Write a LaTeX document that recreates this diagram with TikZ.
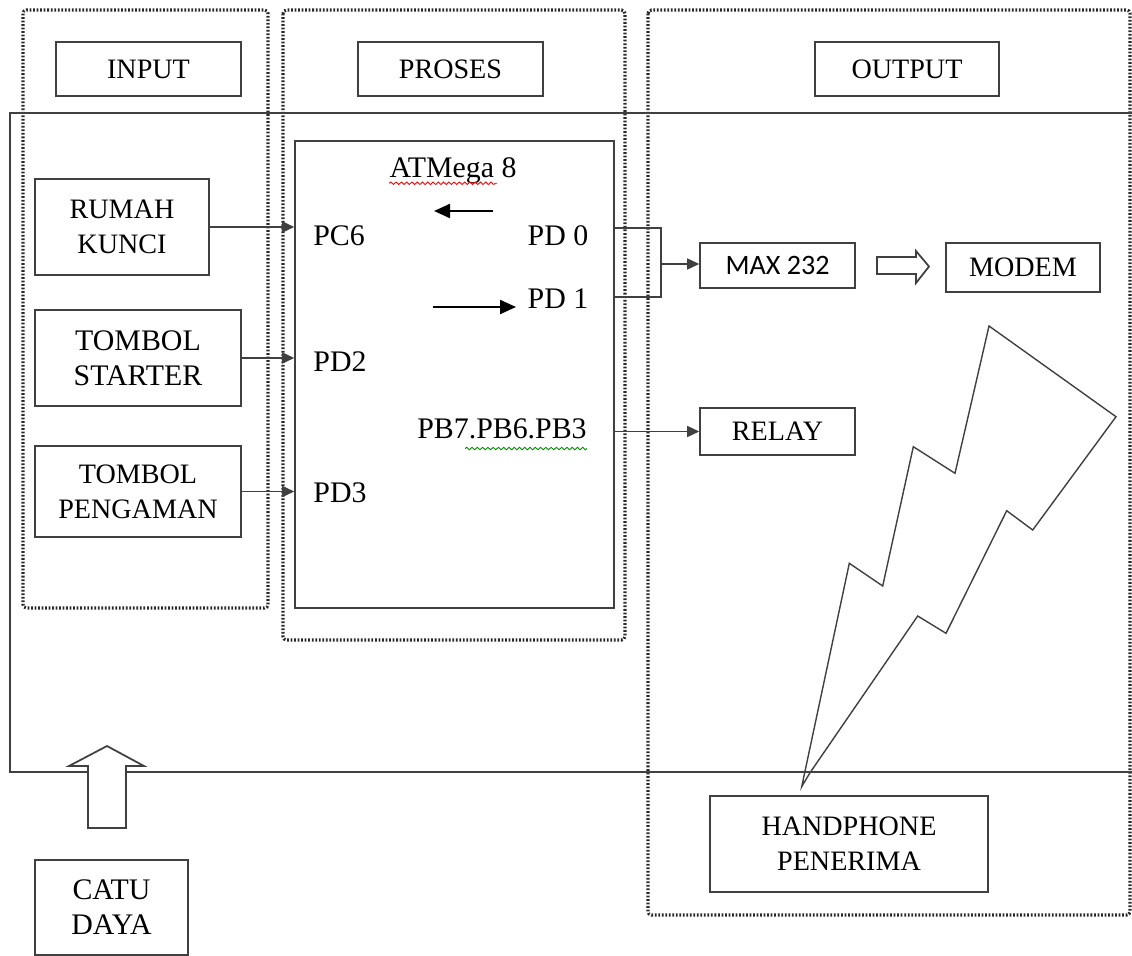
\documentclass[tikz,border=0pt]{standalone}
\usepackage{fontspec}
\setmainfont{Liberation Serif}
\newfontfamily\calibrifont{Carlito}
\usepackage{tikz}
\usetikzlibrary{arrows.meta, positioning, decorations.pathmorphing}
\definecolor{boxgray}{RGB}{64, 64, 64}
\definecolor{dotgray}{RGB}{40, 40, 40}
\newcommand{\blocktext}{\fontsize{16}{20}\selectfont}
\newcommand{\pintext}{\fontsize{17}{20}\selectfont}

\begin{document}
\begin{tikzpicture}[
  x=0.02cm, y=-0.02cm,
  block/.style={rectangle, draw=boxgray, line width=0.9pt, align=center,
               font=\blocktext, inner sep=0pt},
  group/.style={draw=dotgray, line width=1.8pt, dash pattern=on 1pt off 1pt,
               rounded corners=2pt},
  pin/.style={anchor=base, font=\pintext, inner sep=0pt},
  arr/.style={-{Triangle[length=0.24cm, width=0.22cm]}, draw=boxgray, line width=0.8pt},
  flow/.style={-{Triangle[length=0.32cm, width=0.28cm]}, line width=1.3pt, black},
  hollow/.style={draw=boxgray, line width=1pt, fill=white, line join=miter},
  squiggle/.style={decorate, decoration={snake, amplitude=0.7pt, segment length=3pt},
               line width=0.5pt}
]
  \useasboundingbox (0,0) rectangle (1132,956);

  \draw[group] (23,10) rectangle (268,608);
  \draw[group] (283,10) rectangle (625,640);
  \draw[group] (648,10) rectangle (1130,915);
  \draw[boxgray, line width=1pt] (1132,113) -- (10,113) -- (10,772) -- (1132,772);

  \node[block, minimum width=3.7cm, minimum height=1.08cm] (input) at (148.5,69) {INPUT};
  \node[block, minimum width=3.7cm, minimum height=1.08cm] (proses) at (450.5,69) {PROSES};
  \node[block, minimum width=3.68cm, minimum height=1.08cm] (output) at (907,69) {OUTPUT};

  \node[block, minimum width=3.48cm, minimum height=1.92cm] (rumah) at (122,227) {RUMAH\\KUNCI};
  \node[block, minimum width=4.12cm, minimum height=1.92cm, font=\pintext] (starter) at (138,358) {TOMBOL\\STARTER};
  \node[block, minimum width=4.12cm, minimum height=1.82cm] (pengaman) at (138,491.5) {TOMBOL\\PENGAMAN};

  \node[block, minimum width=6.38cm, minimum height=9.34cm] (atmega) at (454.5,374.5) {};
  \node[pin] (atlabel) at (453,178) {ATMega 8};
  \node[pin] (pc6) at (339,245) {PC6};
  \node[pin] (pd2) at (340,371) {PD2};
  \node[pin] (pd3) at (340,502) {PD3};
  \node[pin] (pd0) at (558,245) {PD 0};
  \node[pin] (pd1) at (558,308) {PD 1};
  \node[pin] (pb) at (502,438) {PB7.PB6.PB3};
  \draw[squiggle, red] ([yshift=-3pt]atlabel.base west) -- ++(108,0);
  \draw[squiggle, green!55!black] ([yshift=-6pt]pb.base east) -- ++(-122,0);

  \node[block, minimum width=3.1cm, minimum height=0.9cm, font={\blocktext\calibrifont}] (max) at (777.5,265.5) {MAX 232};
  \node[block, minimum width=3.08cm, minimum height=0.98cm] (modem) at (1023,267.5) {MODEM};
  \node[block, minimum width=3.1cm, minimum height=0.94cm] (relay) at (777.5,431.5) {RELAY};
  \node[block, minimum width=5.56cm, minimum height=1.92cm] (hp) at (849,844) {HANDPHONE\\PENERIMA};
  \node[block, minimum width=3.06cm, minimum height=1.9cm, font=\pintext] (catu) at (111.5,907.5) {CATU\\DAYA};

  \draw[arr] (rumah.east) -- (rumah.east -| atmega.west);
  \draw[arr] (starter.east) -- (starter.east -| atmega.west);
  \draw[arr] (pengaman.east) -- (pengaman.east -| atmega.west);

  \coordinate (rxa) at (493,211);
  \coordinate (rxb) at (434,211);
  \coordinate (txa) at (433,307);
  \coordinate (txb) at (516,307);
  \draw[flow] (rxa) -- (rxb);
  \draw[flow] (txa) -- (txb);

  \coordinate (b0) at (614,228);
  \coordinate (b1) at (614,297);
  \coordinate (bj) at (661,264);
  \draw[boxgray, line width=0.8pt] (b0) -| (bj |- b1) -- (b1);
  \draw[arr] (bj) -- (bj -| max.west);
  \draw[arr] (relay.west -| atmega.east) -- (relay.west);

  \draw[hollow] (877,257) -- (916,257) -- (916,251) -- (929,266.5) -- (916,283)
    -- (916,274) -- (877,274) -- cycle;
  \draw[hollow] (88,828) -- (88,766) -- (69,766) -- (107,746) -- (144,766)
    -- (126,766) -- (126,828) -- cycle;

  \draw[boxgray, line width=0.8pt, line join=miter] (801.7,786.7) -- (849.3,563.3)
    -- (882.7,586) -- (913.3,446.7) -- (955,473.3) -- (989,326) -- (1116,416.7)
    -- (1032.7,530) -- (1006.7,510.7) -- (946,633.3) -- (917.7,616) -- (810,772.7) -- cycle;
\end{tikzpicture}
\end{document}
